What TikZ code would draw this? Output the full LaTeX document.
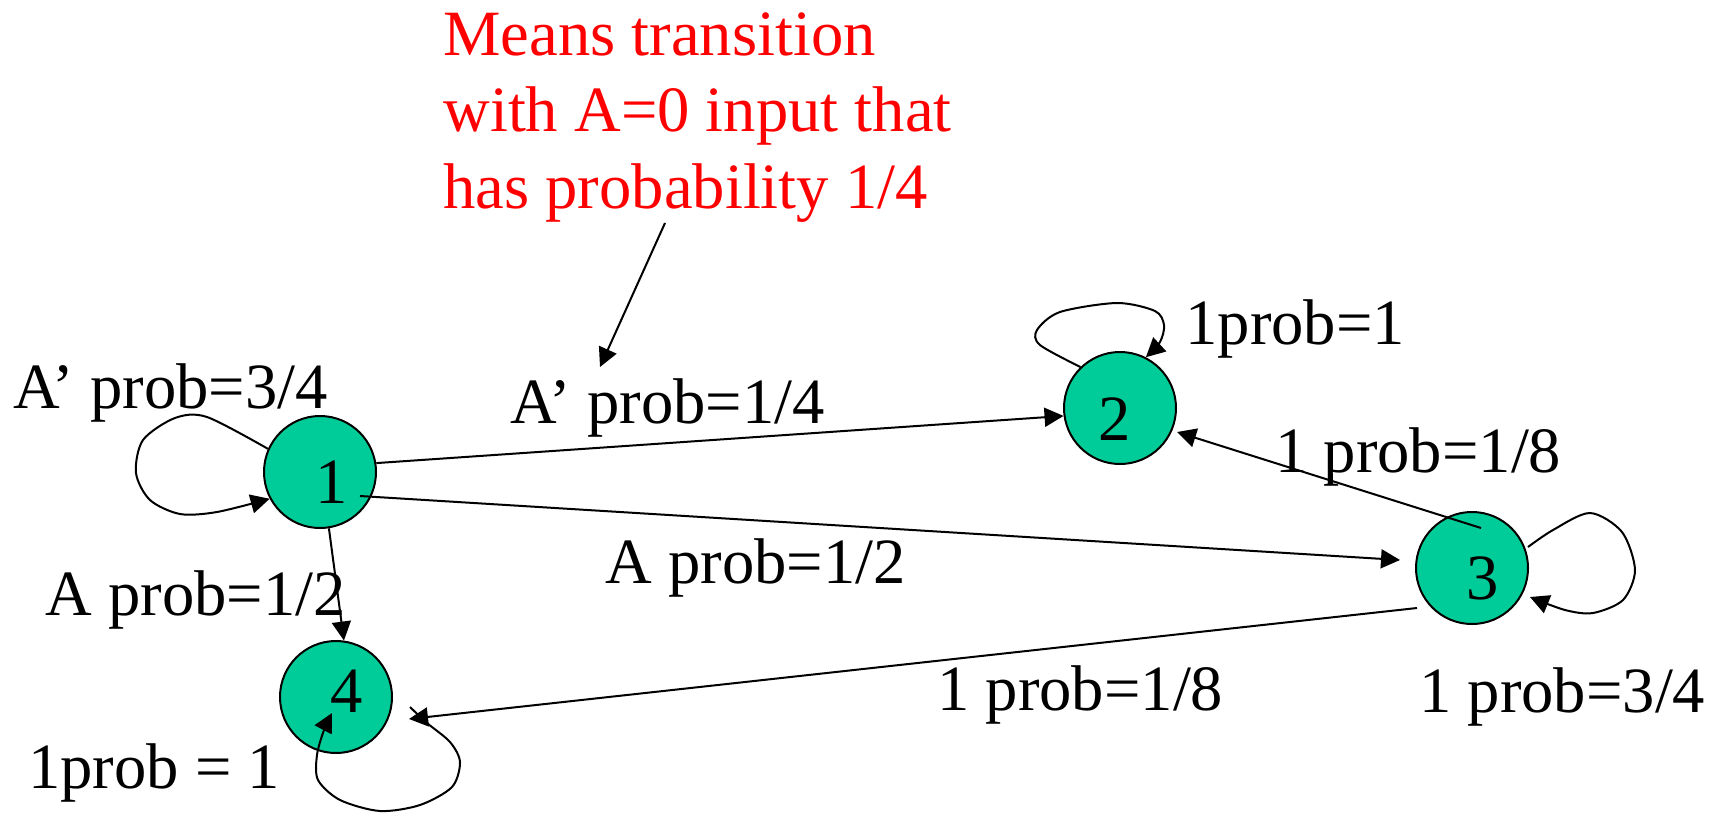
\documentclass[tikz,border=0pt]{standalone}
\usepackage{fontspec}
\setmainfont{Liberation Serif}
\usetikzlibrary{arrows.meta}
\definecolor{stategreen}{RGB}{0,204,153}
\begin{document}
\begin{tikzpicture}[x=0.5pt,y=-0.5pt,
  every node/.style={font=\fontsize{32.3}{38.25}\selectfont, inner sep=0pt},
  state/.style={circle, draw=black, line width=1pt, fill=stategreen, minimum size=56pt},
  lbl/.style={anchor=base west},
  num/.style={anchor=base},
  edge/.style={line width=1pt, -{Triangle[length=9.5pt,width=9.5pt]}}]
\useasboundingbox (0,0) rectangle (1710,815);

% states
\node[state] (n1) at (320,472) {};
\node[state] (n2) at (1120,408) {};
\node[state] (n3) at (1472,568) {};
\node[state] (n4) at (336,697) {};
\node[num] (t1) at (332,503) {1};
\node[num] (t2) at (1115,440) {2};
\node[num] (t3) at (1483,599) {3};
\node[num] (t4) at (347,712) {4};

% red note (base = baseline of last line)
\node[text=red, align=left, anchor=base west] (note) at (443,208) {Means transition\\with A=0 input that\\has probability 1/4};
\coordinate (notetail) at (665,223);
\coordinate (notehead) at (600,367);
\draw[edge] (notetail) -- (notehead);

% transitions
\draw[edge] (n1.9) -- (n2.188);
\draw[edge] ([shift={(40,24)}]n1.center) -- ([shift={(-72,-8)}]n3.center);
\draw[edge] (n1.-81) -- (n4.82);
\draw[edge] ([shift={(9,-40)}]n3.center) -- ([shift={(57,24)}]n2.center);
\draw[edge] ([shift={(-55,40)}]n3.center) -- ([shift={(73,22)}]n4.center);

% self loops
\draw[edge] plot[smooth] coordinates {(n1.156) (207,417) (175,418) (143,440) (136,473) (150,500) (180,514) (217,512) (n1.208)};
\draw[edge] plot[smooth] coordinates {(n2.134) (1040,345) (1037,330) (1060,312) (1117,303) (1155,311) (1164,325) (1160,342) (n2.63)};
\draw[edge] plot[smooth] coordinates {([shift={(56,-21)}]n3.center) (1553,530) (1590,513) (1622,532) (1635,570) (1623,600) (1593,613) (1565,610) ([shift={(58,29)}]n3.center)};
\draw[edge] plot[smooth] coordinates {([shift={(74,10)}]n4.center) (427,723) (450,742) (460,762) (452,787) (420,805) (380,811) (340,800) (318,780) (317,755) (324,730) ([shift={(-4,16)}]n4.center)};

% labels
\node[lbl] (l11) at (13,408) {A’ prob=3/4};
\node[lbl] (l12) at (510,423) {A’ prob=1/4};
\node[lbl] (l22) at (1185,344) {1prob=1};
\node[lbl] (l32) at (1275,472) {1 prob=1/8};
\node[lbl] (l13) at (605,583) {A prob=1/2};
\node[lbl] (l14) at (45,615) {A prob=1/2};
\node[lbl] (l34) at (937,710) {1 prob=1/8};
\node[lbl] (l33) at (1419,712) {1 prob=3/4};
\node[lbl] (l44) at (28,788) {1prob = 1};
\end{tikzpicture}
\end{document}
